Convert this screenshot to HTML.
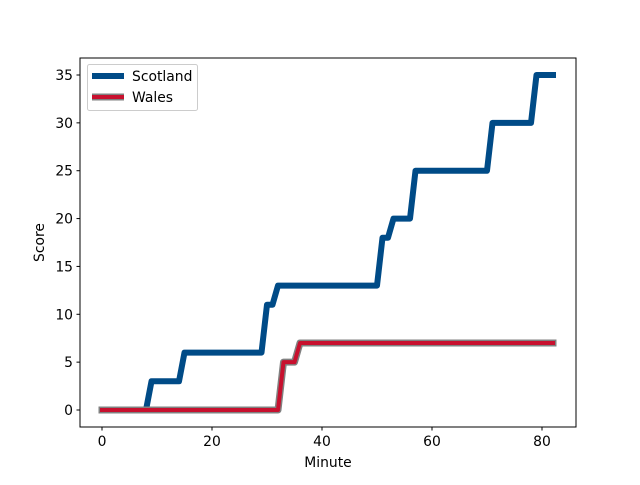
<!DOCTYPE html>
<html><head><meta charset="utf-8"><style>
body{margin:0;background:#fff}
svg text{font-family:"DejaVu Sans","Liberation Sans",sans-serif;font-size:13.9px;fill:#000}
</style></head><body>
<svg id="chart" width="640" height="480" viewBox="0 0 640 480">
<rect x="0" y="0" width="640" height="480" fill="#fff"/>
<g id="plot"></g>
<rect x="80" y="58" width="496" height="369" fill="none" stroke="#000" stroke-width="1"/>
<g id="xt"></g><g id="yt"></g>
<text x="328" y="467" text-anchor="middle">Minute</text>
<text transform="translate(44,242.5) rotate(-90)" text-anchor="middle">Score</text>
<g>
<rect x="87.5" y="64.5" width="110" height="46" rx="2" fill="#fff" fill-opacity="0.8" stroke="#ccc"/>
<g>
<line x1="92" y1="76" x2="124" y2="76" stroke="#004b87" stroke-width="6"/>
<text x="132" y="81">Scotland</text></g>
<g>
<line x1="92" y1="97" x2="124" y2="97" stroke="#808080" stroke-width="7"/>
<line x1="92" y1="97" x2="124" y2="97" stroke="#c8102e" stroke-width="4"/>
<text x="132" y="102">Wales</text></g>
</g>
</svg>
<script>
const scotland=[0,0,0,0,0,0,0,0,0,3,3,3,3,3,3,6,6,6,6,6,6,6,6,6,6,6,6,6,6,6,11,11,13,13,13,13,13,13,13,13,13,13,13,13,13,13,13,13,13,13,13,18,18,20,20,20,20,25,25,25,25,25,25,25,25,25,25,25,25,25,25,30,30,30,30,30,30,30,30,35,35,35,35];
const wales=[0,0,0,0,0,0,0,0,0,0,0,0,0,0,0,0,0,0,0,0,0,0,0,0,0,0,0,0,0,0,0,0,0,5,5,5,7,7,7,7,7,7,7,7,7,7,7,7,7,7,7,7,7,7,7,7,7,7,7,7,7,7,7,7,7,7,7,7,7,7,7,7,7,7,7,7,7,7,7,7,7,7,7];
const xTicks=[0,20,40,60,80];
const yTicks=[0,5,10,15,20,25,30,35];
const NS='http://www.w3.org/2000/svg';
const xs=m=>102+m*5.5;
const ys=v=>410-v*(335/35);
const plot=document.getElementById('plot');
function line(data,color,w,name){
  const p=document.createElementNS(NS,'polyline');
  p.setAttribute('points',data.map((v,i)=>xs(i)+','+ys(v)).join(' '));
  p.setAttribute('fill','none');p.setAttribute('stroke',color);p.setAttribute('stroke-width',w);
  p.setAttribute('stroke-linecap','square');p.setAttribute('stroke-linejoin','round');
  
  
  plot.appendChild(p);
}
line(scotland,'#004b87',6,'scotland-line');
line(wales,'#808080',7,'wales-line-outline');
line(wales,'#c8102e',4,'wales-line');
const xt=document.getElementById('xt');
xTicks.forEach(t=>{
  const l=document.createElementNS(NS,'line');
  l.setAttribute('x1',xs(t));l.setAttribute('x2',xs(t));l.setAttribute('y1',427);l.setAttribute('y2',430.5);l.setAttribute('stroke','#000');
  
  
  xt.appendChild(l);
  const s=document.createElementNS(NS,'text');
  s.setAttribute('x',xs(t));s.setAttribute('y',446);s.setAttribute('text-anchor','middle');s.textContent=t;
  
  
  xt.appendChild(s);
});
const yt=document.getElementById('yt');
yTicks.forEach(t=>{
  const l=document.createElementNS(NS,'line');
  l.setAttribute('x1',76.5);l.setAttribute('x2',80);l.setAttribute('y1',ys(t));l.setAttribute('y2',ys(t));l.setAttribute('stroke','#000');
  
  
  yt.appendChild(l);
  const s=document.createElementNS(NS,'text');
  s.setAttribute('x',73);s.setAttribute('y',ys(t)+5);s.setAttribute('text-anchor','end');s.textContent=t;
  
  
  yt.appendChild(s);
});
</script>
</body></html>
